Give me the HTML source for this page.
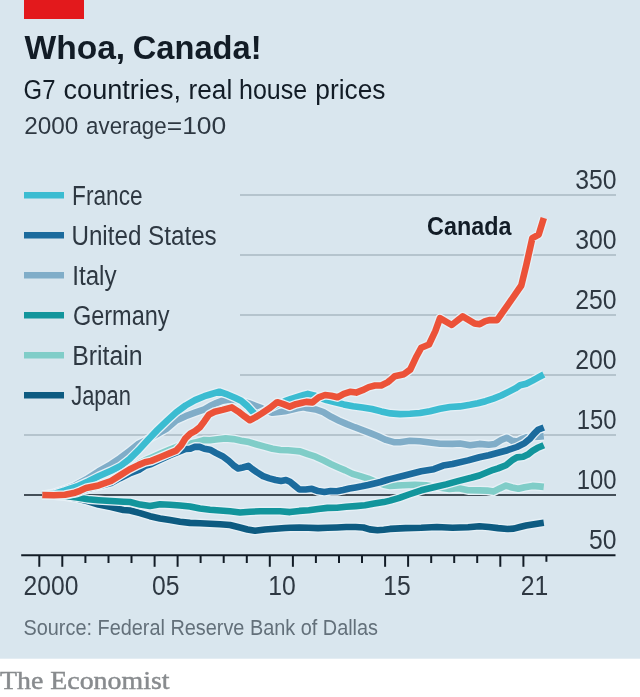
<!DOCTYPE html>
<html lang="en">
<head>
<meta charset="utf-8">
<title>Whoa, Canada!</title>
<style>
  html, body { margin: 0; padding: 0; background: #ffffff; }
  body { width: 640px; height: 697px; overflow: hidden; font-family: "Liberation Sans", sans-serif; }
  svg { display: block; will-change: transform; transform: translateZ(0); }
  text { font-family: "Liberation Sans", sans-serif; }
  .serif { font-family: "Liberation Serif", serif; }
</style>
</head>
<body>
<svg width="640" height="697" viewBox="0 0 640 697">
  <!-- panel background -->
  <rect x="0" y="0" width="640" height="658.7" fill="#d9e6ee"/>
  <!-- red tag -->
  <rect x="24" y="0" width="60" height="19" fill="#e3191c"/>

  <!-- headings -->
  <g font-size="34" font-weight="700" fill="#121c26">
    <text x="24.5" y="59.4" textLength="100.68" lengthAdjust="spacingAndGlyphs">Whoa,</text>
    <text x="132.79" y="59.4" textLength="128.74" lengthAdjust="spacingAndGlyphs">Canada!</text>
  </g>
  <g font-size="27" fill="#121c26">
    <text x="23.62" y="99.3" textLength="31.78" lengthAdjust="spacingAndGlyphs">G7</text>
    <text x="63.5" y="99.3" textLength="117.51" lengthAdjust="spacingAndGlyphs">countries,</text>
    <text x="188.53" y="99.3" textLength="43.69" lengthAdjust="spacingAndGlyphs">real</text>
    <text x="239.07" y="99.3" textLength="68.12" lengthAdjust="spacingAndGlyphs">house</text>
    <text x="315.28" y="99.3" textLength="70.21" lengthAdjust="spacingAndGlyphs">prices</text>
  </g>
  <g font-size="24.5" fill="#2e3842">
    <text x="24.21" y="134.4" textLength="54.17" lengthAdjust="spacingAndGlyphs">2000</text>
    <text x="86.09" y="134.4" textLength="80.58" lengthAdjust="spacingAndGlyphs">average</text>
    <text x="166.72" y="134.4" textLength="59.55" lengthAdjust="spacingAndGlyphs">=100</text>
  </g>

  <!-- gridlines -->
  <g stroke="#a9b8c2" stroke-width="1.3" fill="none">
    <line x1="240" y1="195" x2="616" y2="195"/>
    <line x1="240" y1="255" x2="616" y2="255"/>
    <line x1="240" y1="315" x2="616" y2="315"/>
    <line x1="240" y1="375" x2="616" y2="375"/>
    <line x1="24" y1="435" x2="616" y2="435"/>
  </g>

  <!-- y labels -->
  <g font-size="27" fill="#2e3842" text-anchor="end" lengthAdjust="spacingAndGlyphs">
    <text x="616.6" y="189.2" textLength="41.3" lengthAdjust="spacingAndGlyphs">350</text>
    <text x="616.6" y="249.2" textLength="41.3" lengthAdjust="spacingAndGlyphs">300</text>
    <text x="616.6" y="309.2" textLength="41.3" lengthAdjust="spacingAndGlyphs">250</text>
    <text x="616.6" y="369.2" textLength="41.3" lengthAdjust="spacingAndGlyphs">200</text>
    <text x="616.6" y="429.2" textLength="39.8" lengthAdjust="spacingAndGlyphs">150</text>
    <text x="616.6" y="489.2" textLength="39.8" lengthAdjust="spacingAndGlyphs">100</text>
    <text x="616.6" y="549.2" textLength="27.5" lengthAdjust="spacingAndGlyphs">50</text>
  </g>

  <!-- baseline 100 -->
  <line x1="24" y1="495" x2="616" y2="495" stroke="#121c26" stroke-width="1.6"/>

  <!-- data lines placeholder -->
  <g id="series" fill="none" stroke-width="6.6" stroke-linejoin="round" stroke-linecap="butt">
    <path d="M42.3,495.0 L54.0,495.5 L65.0,496.5 L77.0,498.5 L88.0,501.3 L98.5,504.5 L111.0,507.0 L123.5,510.0 L130.0,510.5 L140.0,513.1 L150.0,516.2 L160.0,518.5 L170.0,520.0 L180.0,521.7 L190.0,522.9 L200.0,523.2 L210.0,523.8 L220.0,524.2 L230.0,525.0 L240.0,527.5 L247.5,529.5 L255.0,530.8 L265.0,529.5 L275.0,528.8 L285.0,528.0 L290.0,527.8 L299.4,527.5 L308.8,527.8 L318.1,528.1 L327.5,527.8 L336.9,527.5 L346.2,527.0 L355.6,527.0 L363.4,527.5 L369.7,529.4 L377.5,530.2 L383.8,529.7 L390.0,528.9 L405.6,528.1 L421.2,527.8 L436.9,527.0 L452.5,527.8 L468.1,527.2 L479.4,526.2 L488.8,527.0 L498.1,528.1 L507.5,529.0 L513.8,528.6 L520.0,527.0 L526.2,525.5 L532.5,524.4 L538.8,523.4 L543.8,522.7" stroke="#e6f0f6" stroke-width="9.2"/>
    <path d="M42.3,495.0 L54.0,495.5 L65.0,496.5 L77.0,498.5 L88.0,501.3 L98.5,504.5 L111.0,507.0 L123.5,510.0 L130.0,510.5 L140.0,513.1 L150.0,516.2 L160.0,518.5 L170.0,520.0 L180.0,521.7 L190.0,522.9 L200.0,523.2 L210.0,523.8 L220.0,524.2 L230.0,525.0 L240.0,527.5 L247.5,529.5 L255.0,530.8 L265.0,529.5 L275.0,528.8 L285.0,528.0 L290.0,527.8 L299.4,527.5 L308.8,527.8 L318.1,528.1 L327.5,527.8 L336.9,527.5 L346.2,527.0 L355.6,527.0 L363.4,527.5 L369.7,529.4 L377.5,530.2 L383.8,529.7 L390.0,528.9 L405.6,528.1 L421.2,527.8 L436.9,527.0 L452.5,527.8 L468.1,527.2 L479.4,526.2 L488.8,527.0 L498.1,528.1 L507.5,529.0 L513.8,528.6 L520.0,527.0 L526.2,525.5 L532.5,524.4 L538.8,523.4 L543.8,522.7" stroke="#0d5b81"/>
    <path d="M42.3,495.0 L54.0,494.8 L65.0,494.2 L75.0,493.0 L86.0,488.0 L98.5,484.9 L111.0,481.2 L120.0,475.8 L129.4,469.6 L138.8,463.5 L145.0,460.4 L151.2,457.7 L160.6,453.5 L170.0,449.5 L176.2,447.1 L181.0,444.9 L188.8,443.9 L195.0,442.6 L204.4,440.0 L210.0,440.3 L217.8,439.3 L225.6,438.4 L233.4,439.1 L241.2,440.7 L249.0,442.1 L256.9,444.5 L264.7,446.6 L272.5,448.8 L280.3,450.0 L288.1,450.3 L295.9,451.0 L300.0,451.4 L307.8,454.2 L315.6,456.7 L323.4,460.3 L331.2,464.2 L339.0,467.7 L345.3,470.4 L352.5,473.9 L360.3,476.2 L368.1,478.6 L375.9,481.7 L383.8,484.8 L390.0,485.9 L402.5,485.2 L415.0,484.7 L426.0,485.2 L437.0,487.3 L449.4,489.0 L458.8,488.3 L468.1,490.3 L479.4,490.4 L487.2,490.6 L493.4,491.6 L499.7,488.4 L506.0,485.6 L512.2,487.5 L518.4,488.8 L524.7,487.2 L532.5,485.9 L538.8,486.4 L543.8,486.9" stroke="#e6f0f6" stroke-width="9.2"/>
    <path d="M42.3,495.0 L54.0,494.8 L65.0,494.2 L75.0,493.0 L86.0,488.0 L98.5,484.9 L111.0,481.2 L120.0,475.8 L129.4,469.6 L138.8,463.5 L145.0,460.4 L151.2,457.7 L160.6,453.5 L170.0,449.5 L176.2,447.1 L181.0,444.9 L188.8,443.9 L195.0,442.6 L204.4,440.0 L210.0,440.3 L217.8,439.3 L225.6,438.4 L233.4,439.1 L241.2,440.7 L249.0,442.1 L256.9,444.5 L264.7,446.6 L272.5,448.8 L280.3,450.0 L288.1,450.3 L295.9,451.0 L300.0,451.4 L307.8,454.2 L315.6,456.7 L323.4,460.3 L331.2,464.2 L339.0,467.7 L345.3,470.4 L352.5,473.9 L360.3,476.2 L368.1,478.6 L375.9,481.7 L383.8,484.8 L390.0,485.9 L402.5,485.2 L415.0,484.7 L426.0,485.2 L437.0,487.3 L449.4,489.0 L458.8,488.3 L468.1,490.3 L479.4,490.4 L487.2,490.6 L493.4,491.6 L499.7,488.4 L506.0,485.6 L512.2,487.5 L518.4,488.8 L524.7,487.2 L532.5,485.9 L538.8,486.4 L543.8,486.9" stroke="#80cdc8"/>
    <path d="M42.3,495.0 L54.0,495.5 L65.0,496.0 L77.0,497.5 L88.0,499.3 L98.5,500.2 L111.0,501.0 L123.5,501.7 L130.0,502.0 L140.0,504.6 L150.0,506.0 L160.0,504.2 L170.0,504.8 L180.0,505.5 L190.0,506.5 L200.0,508.5 L210.0,509.7 L220.0,510.5 L230.0,511.2 L240.0,512.5 L250.0,511.8 L260.0,511.2 L270.0,511.2 L280.0,511.2 L290.0,512.1 L299.4,510.9 L308.8,510.3 L318.1,509.0 L327.5,507.9 L336.9,507.7 L346.2,506.8 L355.6,506.1 L365.0,505.2 L374.4,503.6 L383.8,502.1 L390.0,500.6 L399.4,497.8 L408.8,494.5 L421.2,490.3 L433.8,487.2 L446.2,484.4 L458.8,480.9 L471.2,477.8 L479.4,475.5 L487.2,472.3 L493.4,469.8 L498.1,468.4 L506.0,465.2 L512.2,460.2 L516.9,457.4 L523.1,456.8 L527.8,454.6 L532.5,450.9 L537.2,448.1 L543.8,445.2" stroke="#e6f0f6" stroke-width="9.2"/>
    <path d="M42.3,495.0 L54.0,495.5 L65.0,496.0 L77.0,497.5 L88.0,499.3 L98.5,500.2 L111.0,501.0 L123.5,501.7 L130.0,502.0 L140.0,504.6 L150.0,506.0 L160.0,504.2 L170.0,504.8 L180.0,505.5 L190.0,506.5 L200.0,508.5 L210.0,509.7 L220.0,510.5 L230.0,511.2 L240.0,512.5 L250.0,511.8 L260.0,511.2 L270.0,511.2 L280.0,511.2 L290.0,512.1 L299.4,510.9 L308.8,510.3 L318.1,509.0 L327.5,507.9 L336.9,507.7 L346.2,506.8 L355.6,506.1 L365.0,505.2 L374.4,503.6 L383.8,502.1 L390.0,500.6 L399.4,497.8 L408.8,494.5 L421.2,490.3 L433.8,487.2 L446.2,484.4 L458.8,480.9 L471.2,477.8 L479.4,475.5 L487.2,472.3 L493.4,469.8 L498.1,468.4 L506.0,465.2 L512.2,460.2 L516.9,457.4 L523.1,456.8 L527.8,454.6 L532.5,450.9 L537.2,448.1 L543.8,445.2" stroke="#12959c"/>
    <path d="M42.3,495.0 L54.0,493.0 L65.0,489.5 L75.0,485.5 L86.0,479.5 L98.5,471.4 L111.0,464.3 L120.0,458.2 L129.4,451.1 L138.8,443.7 L148.1,439.2 L157.5,433.9 L166.9,428.6 L176.2,420.5 L185.6,416.2 L195.0,412.7 L204.4,409.3 L210.0,406.0 L216.2,403.1 L222.5,400.7 L228.8,399.7 L238.0,400.1 L249.0,403.4 L255.3,405.8 L261.6,408.1 L267.0,410.8 L272.5,412.8 L278.8,412.0 L285.0,411.2 L291.2,409.7 L297.5,408.3 L303.8,407.3 L307.8,408.3 L315.6,409.4 L323.4,412.1 L331.2,416.8 L339.0,420.7 L346.9,424.1 L354.7,427.2 L362.5,430.1 L370.3,433.1 L378.1,436.3 L386.0,439.9 L393.8,442.2 L400.0,442.2 L410.0,440.8 L420.0,441.2 L430.0,442.5 L440.0,443.8 L452.5,443.9 L460.0,443.5 L470.0,445.2 L479.4,443.9 L488.8,444.7 L495.0,443.9 L501.2,440.0 L506.7,437.7 L512.2,440.8 L516.9,441.6 L521.6,439.2 L527.0,437.2 L538.8,436.6 L543.8,436.1" stroke="#e6f0f6" stroke-width="9.2"/>
    <path d="M42.3,495.0 L54.0,493.0 L65.0,489.5 L75.0,485.5 L86.0,479.5 L98.5,471.4 L111.0,464.3 L120.0,458.2 L129.4,451.1 L138.8,443.7 L148.1,439.2 L157.5,433.9 L166.9,428.6 L176.2,420.5 L185.6,416.2 L195.0,412.7 L204.4,409.3 L210.0,406.0 L216.2,403.1 L222.5,400.7 L228.8,399.7 L238.0,400.1 L249.0,403.4 L255.3,405.8 L261.6,408.1 L267.0,410.8 L272.5,412.8 L278.8,412.0 L285.0,411.2 L291.2,409.7 L297.5,408.3 L303.8,407.3 L307.8,408.3 L315.6,409.4 L323.4,412.1 L331.2,416.8 L339.0,420.7 L346.9,424.1 L354.7,427.2 L362.5,430.1 L370.3,433.1 L378.1,436.3 L386.0,439.9 L393.8,442.2 L400.0,442.2 L410.0,440.8 L420.0,441.2 L430.0,442.5 L440.0,443.8 L452.5,443.9 L460.0,443.5 L470.0,445.2 L479.4,443.9 L488.8,444.7 L495.0,443.9 L501.2,440.0 L506.7,437.7 L512.2,440.8 L516.9,441.6 L521.6,439.2 L527.0,437.2 L538.8,436.6 L543.8,436.1" stroke="#80adc8"/>
    <path d="M42.3,495.0 L54.0,495.3 L65.0,495.0 L77.0,492.7 L88.0,488.7 L100.0,485.9 L111.0,483.0 L120.0,478.2 L129.4,473.5 L138.8,469.9 L145.0,465.9 L151.2,464.0 L160.6,459.6 L170.0,455.2 L179.4,451.4 L185.6,449.0 L190.3,448.8 L195.0,446.7 L199.7,446.9 L204.4,448.8 L210.0,449.7 L216.2,453.1 L222.5,456.2 L228.8,460.9 L233.4,465.2 L238.1,468.5 L242.8,467.5 L248.3,465.9 L252.2,469.0 L256.9,472.2 L263.1,476.1 L269.4,478.4 L275.6,480.0 L281.0,481.0 L286.0,480.0 L290.0,481.7 L294.7,485.6 L299.4,489.5 L305.6,489.5 L311.9,488.8 L318.1,491.1 L324.4,491.9 L330.6,491.1 L336.9,491.2 L343.1,490.0 L349.4,488.5 L355.6,487.4 L361.9,486.3 L368.1,485.0 L374.4,483.5 L380.6,482.0 L386.9,480.0 L390.0,479.1 L405.6,475.2 L421.2,471.3 L433.8,469.2 L443.1,465.6 L452.5,464.0 L468.1,460.4 L479.4,457.3 L488.8,455.3 L498.1,452.8 L507.5,450.2 L516.9,447.0 L524.7,443.1 L530.2,438.4 L534.0,433.8 L538.0,429.8 L543.8,427.5" stroke="#e6f0f6" stroke-width="9.2"/>
    <path d="M42.3,495.0 L54.0,495.3 L65.0,495.0 L77.0,492.7 L88.0,488.7 L100.0,485.9 L111.0,483.0 L120.0,478.2 L129.4,473.5 L138.8,469.9 L145.0,465.9 L151.2,464.0 L160.6,459.6 L170.0,455.2 L179.4,451.4 L185.6,449.0 L190.3,448.8 L195.0,446.7 L199.7,446.9 L204.4,448.8 L210.0,449.7 L216.2,453.1 L222.5,456.2 L228.8,460.9 L233.4,465.2 L238.1,468.5 L242.8,467.5 L248.3,465.9 L252.2,469.0 L256.9,472.2 L263.1,476.1 L269.4,478.4 L275.6,480.0 L281.0,481.0 L286.0,480.0 L290.0,481.7 L294.7,485.6 L299.4,489.5 L305.6,489.5 L311.9,488.8 L318.1,491.1 L324.4,491.9 L330.6,491.1 L336.9,491.2 L343.1,490.0 L349.4,488.5 L355.6,487.4 L361.9,486.3 L368.1,485.0 L374.4,483.5 L380.6,482.0 L386.9,480.0 L390.0,479.1 L405.6,475.2 L421.2,471.3 L433.8,469.2 L443.1,465.6 L452.5,464.0 L468.1,460.4 L479.4,457.3 L488.8,455.3 L498.1,452.8 L507.5,450.2 L516.9,447.0 L524.7,443.1 L530.2,438.4 L534.0,433.8 L538.0,429.8 L543.8,427.5" stroke="#1b6b9d"/>
    <path d="M42.3,495.0 L54.0,493.8 L65.0,490.5 L77.0,486.5 L88.0,481.5 L98.5,476.3 L111.0,470.8 L120.0,466.3 L129.4,459.2 L138.8,449.9 L148.1,439.7 L157.5,429.9 L166.9,420.9 L176.2,412.4 L185.6,405.5 L195.0,400.1 L204.4,396.2 L210.0,394.5 L219.4,391.7 L225.6,393.8 L235.0,397.8 L241.2,400.8 L247.5,406.1 L252.2,411.3 L255.0,413.9 L256.9,414.8 L263.1,412.0 L269.4,408.4 L275.6,405.5 L280.3,403.6 L285.0,401.2 L291.2,398.8 L297.5,396.9 L303.8,394.9 L307.8,393.9 L314.0,395.4 L320.0,397.9 L326.6,400.0 L334.4,402.0 L343.8,404.4 L353.1,406.2 L362.5,407.5 L371.9,409.0 L381.2,411.4 L390.6,413.4 L400.0,414.1 L410.0,413.8 L420.0,413.0 L430.0,411.2 L440.0,408.8 L450.0,407.0 L460.0,406.4 L470.0,404.8 L477.8,403.3 L485.6,401.2 L493.4,398.6 L501.2,395.5 L509.0,391.6 L515.3,388.4 L520.0,385.3 L526.2,383.8 L532.5,380.6 L538.8,377.2 L543.8,374.5" stroke="#e6f0f6" stroke-width="9.2"/>
    <path d="M42.3,495.0 L54.0,493.8 L65.0,490.5 L77.0,486.5 L88.0,481.5 L98.5,476.3 L111.0,470.8 L120.0,466.3 L129.4,459.2 L138.8,449.9 L148.1,439.7 L157.5,429.9 L166.9,420.9 L176.2,412.4 L185.6,405.5 L195.0,400.1 L204.4,396.2 L210.0,394.5 L219.4,391.7 L225.6,393.8 L235.0,397.8 L241.2,400.8 L247.5,406.1 L252.2,411.3 L255.0,413.9 L256.9,414.8 L263.1,412.0 L269.4,408.4 L275.6,405.5 L280.3,403.6 L285.0,401.2 L291.2,398.8 L297.5,396.9 L303.8,394.9 L307.8,393.9 L314.0,395.4 L320.0,397.9 L326.6,400.0 L334.4,402.0 L343.8,404.4 L353.1,406.2 L362.5,407.5 L371.9,409.0 L381.2,411.4 L390.6,413.4 L400.0,414.1 L410.0,413.8 L420.0,413.0 L430.0,411.2 L440.0,408.8 L450.0,407.0 L460.0,406.4 L470.0,404.8 L477.8,403.3 L485.6,401.2 L493.4,398.6 L501.2,395.5 L509.0,391.6 L515.3,388.4 L520.0,385.3 L526.2,383.8 L532.5,380.6 L538.8,377.2 L543.8,374.5" stroke="#3bbcd1"/>
    <path d="M42.3,495.0 L54.0,495.2 L65.0,494.8 L75.0,492.7 L80.0,490.8 L86.0,488.1 L98.5,485.4 L111.0,481.0 L120.0,475.4 L129.4,469.5 L138.8,464.9 L145.0,462.3 L151.2,460.9 L160.6,457.0 L170.0,453.1 L176.2,450.6 L181.0,445.4 L185.6,438.1 L190.3,433.7 L195.0,431.1 L199.7,427.4 L204.4,421.2 L209.0,414.6 L214.7,411.7 L222.5,409.9 L231.9,407.4 L238.1,411.4 L244.4,416.3 L249.8,420.2 L255.3,417.4 L261.6,413.5 L269.4,408.3 L277.2,402.2 L283.4,404.2 L289.7,406.6 L295.9,404.2 L302.2,402.8 L306.2,401.9 L312.5,402.4 L318.8,397.3 L325.0,395.0 L331.2,395.8 L337.5,397.3 L343.8,393.9 L350.0,391.8 L356.2,392.6 L362.5,390.2 L368.8,387.1 L375.0,385.5 L381.2,385.5 L387.5,382.4 L390.0,380.4 L394.7,376.2 L404.0,374.2 L410.3,369.5 L416.6,356.2 L421.2,347.7 L429.0,344.5 L435.3,331.2 L440.0,318.1 L451.7,325.0 L462.7,316.4 L474.4,323.4 L479.8,324.2 L485.3,321.1 L490.0,320.0 L497.1,320.1 L508.2,304.4 L521.3,285.5 L526.3,265.0 L532.3,238.2 L538.7,234.6 L543.8,218.0" stroke="#e6f0f6" stroke-width="9.2"/>
    <path d="M42.3,495.0 L54.0,495.2 L65.0,494.8 L75.0,492.7 L80.0,490.8 L86.0,488.1 L98.5,485.4 L111.0,481.0 L120.0,475.4 L129.4,469.5 L138.8,464.9 L145.0,462.3 L151.2,460.9 L160.6,457.0 L170.0,453.1 L176.2,450.6 L181.0,445.4 L185.6,438.1 L190.3,433.7 L195.0,431.1 L199.7,427.4 L204.4,421.2 L209.0,414.6 L214.7,411.7 L222.5,409.9 L231.9,407.4 L238.1,411.4 L244.4,416.3 L249.8,420.2 L255.3,417.4 L261.6,413.5 L269.4,408.3 L277.2,402.2 L283.4,404.2 L289.7,406.6 L295.9,404.2 L302.2,402.8 L306.2,401.9 L312.5,402.4 L318.8,397.3 L325.0,395.0 L331.2,395.8 L337.5,397.3 L343.8,393.9 L350.0,391.8 L356.2,392.6 L362.5,390.2 L368.8,387.1 L375.0,385.5 L381.2,385.5 L387.5,382.4 L390.0,380.4 L394.7,376.2 L404.0,374.2 L410.3,369.5 L416.6,356.2 L421.2,347.7 L429.0,344.5 L435.3,331.2 L440.0,318.1 L451.7,325.0 L462.7,316.4 L474.4,323.4 L479.8,324.2 L485.3,321.1 L490.0,320.0 L497.1,320.1 L508.2,304.4 L521.3,285.5 L526.3,265.0 L532.3,238.2 L538.7,234.6 L543.8,218.0" stroke="#ec5238"/>
  </g>

  <!-- x axis -->
  <g stroke="#121c26" stroke-width="2" fill="none">
    <line x1="21.2" y1="555.3" x2="615.5" y2="555.3"/>
  </g>
  <g id="ticks" stroke="#121c26" stroke-width="2" fill="none">
    <line x1="39.3" y1="555.3" x2="39.3" y2="566.8"/>
    <line x1="62.3" y1="555.3" x2="62.3" y2="566.8"/>
    <line x1="85.4" y1="555.3" x2="85.4" y2="563.0"/>
    <line x1="108.5" y1="555.3" x2="108.5" y2="563.0"/>
    <line x1="131.5" y1="555.3" x2="131.5" y2="563.0"/>
    <line x1="154.6" y1="555.3" x2="154.6" y2="566.8"/>
    <line x1="177.6" y1="555.3" x2="177.6" y2="566.8"/>
    <line x1="200.6" y1="555.3" x2="200.6" y2="563.0"/>
    <line x1="223.7" y1="555.3" x2="223.7" y2="563.0"/>
    <line x1="246.8" y1="555.3" x2="246.8" y2="563.0"/>
    <line x1="269.8" y1="555.3" x2="269.8" y2="566.8"/>
    <line x1="292.9" y1="555.3" x2="292.9" y2="566.8"/>
    <line x1="315.9" y1="555.3" x2="315.9" y2="563.0"/>
    <line x1="339.0" y1="555.3" x2="339.0" y2="563.0"/>
    <line x1="362.0" y1="555.3" x2="362.0" y2="563.0"/>
    <line x1="385.1" y1="555.3" x2="385.1" y2="566.8"/>
    <line x1="408.1" y1="555.3" x2="408.1" y2="566.8"/>
    <line x1="431.2" y1="555.3" x2="431.2" y2="563.0"/>
    <line x1="454.2" y1="555.3" x2="454.2" y2="563.0"/>
    <line x1="477.2" y1="555.3" x2="477.2" y2="563.0"/>
    <line x1="500.3" y1="555.3" x2="500.3" y2="566.8"/>
    <line x1="523.4" y1="555.3" x2="523.4" y2="566.8"/>
    <line x1="546.4" y1="555.3" x2="546.4" y2="561.8"/>
  </g>

  <!-- legend -->
  <g stroke-width="6.5" fill="none">
    <line x1="24" y1="195.2" x2="64" y2="195.2" stroke="#3bbcd1"/>
    <line x1="24" y1="235.2" x2="64" y2="235.2" stroke="#1b6b9d"/>
    <line x1="24" y1="275.2" x2="64" y2="275.2" stroke="#80adc8"/>
    <line x1="24" y1="315.2" x2="64" y2="315.2" stroke="#12959c"/>
    <line x1="24" y1="355.2" x2="64" y2="355.2" stroke="#80cdc8"/>
    <line x1="24" y1="395.2" x2="64" y2="395.2" stroke="#0d5b81"/>
  </g>
  <g font-size="27" fill="#2e3842">
    <text x="72.07" y="205.4" textLength="70.53" lengthAdjust="spacingAndGlyphs">France</text>
    <text x="71.41" y="245.4" textLength="145.29" lengthAdjust="spacingAndGlyphs">United States</text>
    <text x="72.21" y="285.4" textLength="44.34" lengthAdjust="spacingAndGlyphs">Italy</text>
    <text x="72.93" y="325.4" textLength="96.64" lengthAdjust="spacingAndGlyphs">Germany</text>
    <text x="72.16" y="365.4" textLength="70.48" lengthAdjust="spacingAndGlyphs">Britain</text>
    <text x="71.2" y="405.4" textLength="59.62" lengthAdjust="spacingAndGlyphs">Japan</text>
  </g>

  <text x="427.1" y="235" font-size="26" font-weight="700" fill="#121c26" textLength="84.41" lengthAdjust="spacingAndGlyphs">Canada</text>

  <!-- x labels -->
  <g font-size="27" fill="#2e3842" text-anchor="middle">
    <text x="51" y="595.2" textLength="54.8" lengthAdjust="spacingAndGlyphs">2000</text>
    <text x="165.8" y="595.2" textLength="27.5" lengthAdjust="spacingAndGlyphs">05</text>
    <text x="282" y="595.2" textLength="27.5" lengthAdjust="spacingAndGlyphs">10</text>
    <text x="397" y="595.2" textLength="27.5" lengthAdjust="spacingAndGlyphs">15</text>
    <text x="534.6" y="595.2" textLength="27.5" lengthAdjust="spacingAndGlyphs">21</text>
  </g>

  <text x="23.5" y="634.8" font-size="22" fill="#63707a" textLength="354.5" lengthAdjust="spacingAndGlyphs">Source: Federal Reserve Bank of Dallas</text>

  <text class="serif" x="0" y="689" font-size="25" fill="#888b8e" stroke="#888b8e" stroke-width="0.45" textLength="169.5" lengthAdjust="spacingAndGlyphs">The Economist</text>
</svg>
</body>
</html>
